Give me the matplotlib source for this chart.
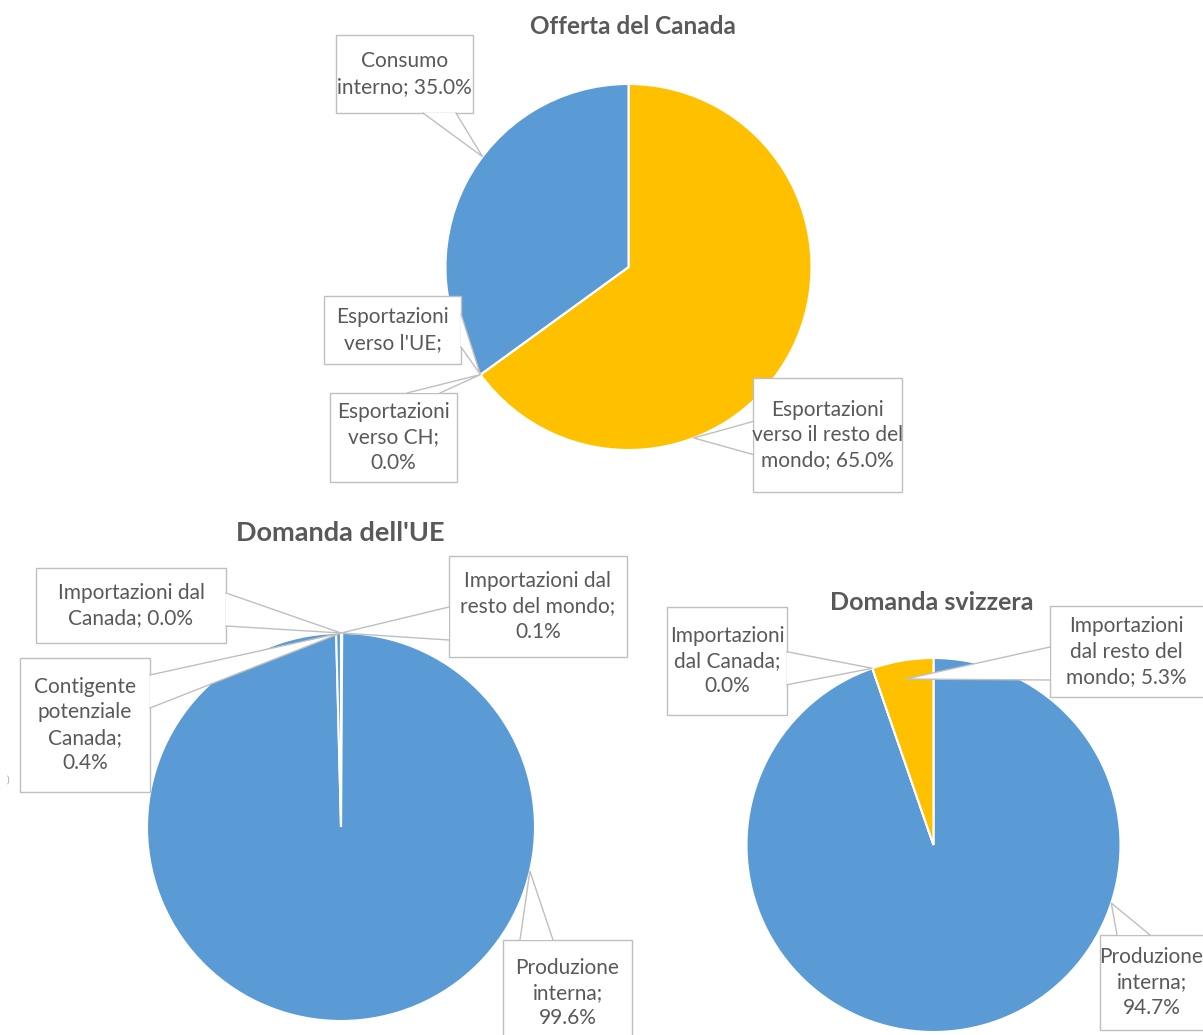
#!/usr/bin/env python3
# -*- coding: utf-8 -*-

import numpy as np
import matplotlib
matplotlib.use("Agg")
import matplotlib.pyplot as plt
from matplotlib.patches import Rectangle, Polygon

plt.rcParams["font.family"] = ["Lato", "DejaVu Sans"]

W, H = 1203, 1035
TXT = "#595959"
EDGE = "#BFBFBF"
BLUE, GOLD, GREEN = "#5B9BD5", "#FFC000", "#70AD47"

# --- dati (percentuali, in ordine orario a partire dalle ore 12) ---
canada_names = ["Esportazioni verso il resto del mondo", "Esportazioni verso CH",
                "Esportazioni verso l'UE", "Consumo interno"]
canada_values = [65.0, 0.0, 0.0, 35.0]
canada_colors = [GOLD, GOLD, GOLD, BLUE]
canada_labels = ["Esportazioni\nverso il resto del\nmondo; {:.1f}%",
                 "Esportazioni\nverso CH;\n{:.1f}%",
                 "Esportazioni\nverso l'UE;",
                 "Consumo\ninterno; {:.1f}%"]

ue_names = ["Importazioni dal resto del mondo", "Produzione interna",
            "Contigente potenziale Canada", "Importazioni dal Canada"]
ue_values = [0.1, 99.6, 0.4, 0.0]
ue_colors = [GREEN, BLUE, BLUE, BLUE]
ue_labels = ["Importazioni dal\nresto del mondo;\n{:.1f}%",
             "Produzione\ninterna;\n{:.1f}%",
             "Contigente\npotenziale\nCanada;\n{:.1f}%",
             "Importazioni dal\nCanada; {:.1f}%"]

ch_names = ["Produzione interna", "Importazioni dal Canada",
            "Importazioni dal resto del mondo"]
ch_values = [94.7, 0.0, 5.3]
ch_colors = [BLUE, BLUE, GOLD]
ch_labels = ["Produzione\ninterna;\n{:.1f}%",
             "Importazioni\ndal Canada;\n{:.1f}%",
             "Importazioni\ndal resto del\nmondo; {:.1f}%"]

# --- impaginazione (pixel): centro/raggio torta, box etichette ---
# box: (x0, y0, x1, y1, lato della punta, frazione lungo la fetta, frazione raggio)
PIES = [
    dict(title="Offerta del Canada", tpos=(633, 27), tsize=17.5,
         center=(628.5, 267), r=183,
         values=canada_values, colors=canada_colors, labels=canada_labels,
         boxes=[(753, 378, 902, 492, "left", 0.68, 1.0),
                (330, 393, 457, 482, "top", 0.0, 1.0),
                (324, 296, 461, 364, "right", 0.0, 1.0),
                (336, 35, 473, 113, "bottom", 0.58, 1.0)]),
    dict(title="Domanda dell'UE", tpos=(340, 533), tsize=19.5,
         center=(341, 827), r=194,
         values=ue_values, colors=ue_colors, labels=ue_labels,
         boxes=[(449, 556, 627, 657, "left", 0.0, 1.0),
                (503, 940, 632, 1040, "top", 0.287, 1.0),
                (20, 658, 150, 792, "right", 1.0, 1.0),
                (36, 568, 226, 643, "right", 1.0, 1.0)]),
    dict(title="Domanda svizzera", tpos=(932, 602), tsize=18,
         center=(933.5, 845), r=187,
         values=ch_values, colors=ch_colors, labels=ch_labels,
         boxes=[(1100, 935, 1210, 1030, "top", 0.317, 1.0),
                (667, 607, 787, 715, "right", 0.0, 1.0),
                (1050, 606, 1210, 697, "left", 0.5, 0.9)]),
]

NOTCH = 33
MARGIN = 17


def notch_base(x0, y0, x1, y1, side, tip):
    tx, ty = tip
    if side in ("top", "bottom"):
        c = np.clip(tx, x0 + MARGIN + NOTCH / 2, x1 - MARGIN - NOTCH / 2)
        y = y0 if side == "top" else y1
        return (c - NOTCH / 2, y), (c + NOTCH / 2, y)
    c = np.clip(ty, y0 + MARGIN + NOTCH / 2, y1 - MARGIN - NOTCH / 2)
    x = x0 if side == "left" else x1
    return (x, c - NOTCH / 2), (x, c + NOTCH / 2)


fig = plt.figure(figsize=(W / 100, H / 100), dpi=100)
ov = fig.add_axes([0, 0, 1, 1], zorder=5)
ov.set_xlim(0, W)
ov.set_ylim(H, 0)
ov.axis("off")
ov.patch.set_alpha(0)

for p in PIES:
    cx, cy = p["center"]
    r = p["r"]
    ax = fig.add_axes([(cx - r) / W, 1 - (cy + r) / H, 2 * r / W, 2 * r / H], zorder=1)
    ax.pie(p["values"], colors=p["colors"], startangle=90, counterclock=False,
           wedgeprops=dict(edgecolor="white", linewidth=1.5))
    ax.set_xlim(-1, 1)
    ax.set_ylim(-1, 1)
    ax.set_aspect("equal")
    ax.axis("off")

    ov.text(*p["tpos"], p["title"], ha="center", va="center", fontsize=p["tsize"],
            fontweight="bold", color=TXT)

    # angoli cumulati in gradi, in senso orario dalle ore 12
    vals = np.array(p["values"], dtype=float)
    edges = np.concatenate([[0], np.cumsum(vals)]) / vals.sum() * 360
    for i, (x0, y0, x1, y1, side, frac, rf) in enumerate(p["boxes"]):
        ang = np.radians(edges[i] + frac * (edges[i + 1] - edges[i]))
        tip = (cx + rf * r * np.sin(ang), cy - rf * r * np.cos(ang))
        b1, b2 = notch_base(x0, y0, x1, y1, side, tip)

        ov.add_patch(Rectangle((x0, y0), x1 - x0, y1 - y0, fc="white", ec=EDGE,
                               lw=1.0, zorder=3))
        ov.add_patch(Polygon([b1, tip, b2], closed=True, fc="white", ec="none",
                             zorder=4))
        ov.plot([b1[0], tip[0], b2[0]], [b1[1], tip[1], b2[1]], color=EDGE,
                lw=1.0, zorder=5, solid_joinstyle="miter")

        label = p["labels"][i].format(p["values"][i])
        ty = (y0 + y1) / 2 if y1 <= H else y0 + 53
        ov.text((x0 + min(x1, W)) / 2, ty, label, ha="center", va="center",
                fontsize=15, color=TXT, linespacing=1.33, zorder=6)

# resto di un'etichetta tagliata al bordo sinistro
ov.text(8, 780, ")", ha="center", va="center", fontsize=7, color="#A0A0A0")

fig.savefig("out.png", dpi=100)
